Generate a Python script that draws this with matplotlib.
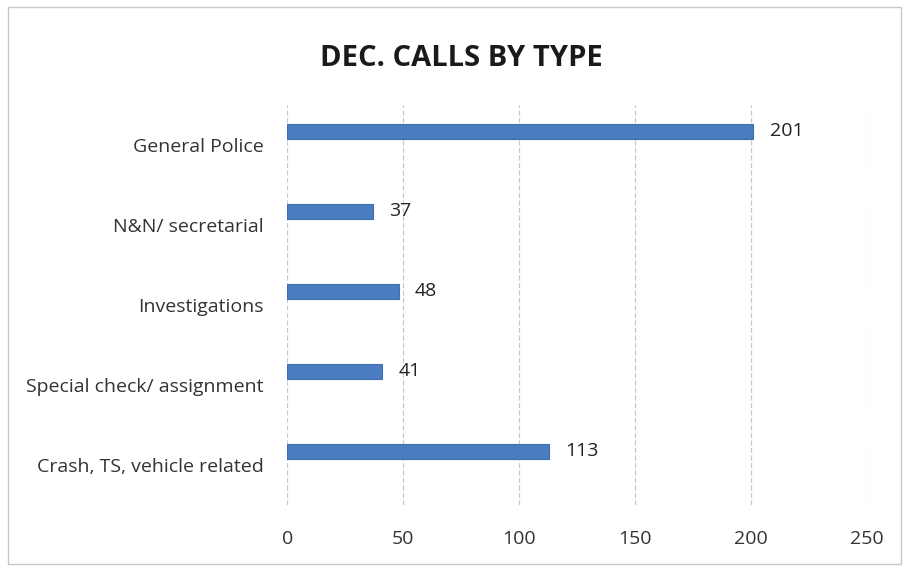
import matplotlib
matplotlib.use("Agg")
import matplotlib.pyplot as plt
from matplotlib.patches import Rectangle

categories = ["General Police", "N&N/ secretarial", "Investigations",
              "Special check/ assignment", "Crash, TS, vehicle related"]
values = [201, 37, 48, 41, 113]
xticks = [0, 50, 100, 150, 200, 250]

plt.rcParams['font.family'] = ['Open Sans', 'DejaVu Sans']

fig = plt.figure(figsize=(9.06, 5.71), dpi=100)
ax = fig.add_axes([0.317, 0.116, 0.640, 0.700])

pos = list(range(len(categories)))
bar_pos = [p - 0.17 for p in pos]
bars = ax.barh(bar_pos, values, height=0.19, color="#4a7cc0",
               edgecolor="#3f6fb0", linewidth=0.8, zorder=3)

for b, v in zip(bars, values):
    ax.text(b.get_width() + 7, b.get_y() + b.get_height() / 2, str(v),
            va="center", ha="left", fontsize=14, color="#222222")

ax.set_yticks(pos)
ax.set_yticklabels(categories, fontsize=14, color="#333333")
ax.set_xticks(xticks)
ax.set_xticklabels([str(t) for t in xticks], fontsize=14, color="#333333")
ax.set_xlim(0, 250)
ax.set_ylim(len(categories) - 0.5, -0.5)

ax.tick_params(axis="x", length=0, pad=18)
ax.tick_params(axis="y", length=0, pad=17)
ax.grid(axis="x", color="#c8c8c8", linewidth=0.9, linestyle=(0, (4, 2)), zorder=0)
for s in ax.spines.values():
    s.set_visible(False)

fig.text(0.509, 0.898, "DEC. CALLS BY TYPE", ha="center", va="center",
         fontsize=21, fontweight="bold", color="#1a1a1a")

fig.patches.append(Rectangle((0.009, 0.012), 0.985, 0.975, transform=fig.transFigure,
                             fill=False, edgecolor="#c8c8c8", linewidth=1.0))

fig.savefig("out.png", dpi=100, facecolor="white")
